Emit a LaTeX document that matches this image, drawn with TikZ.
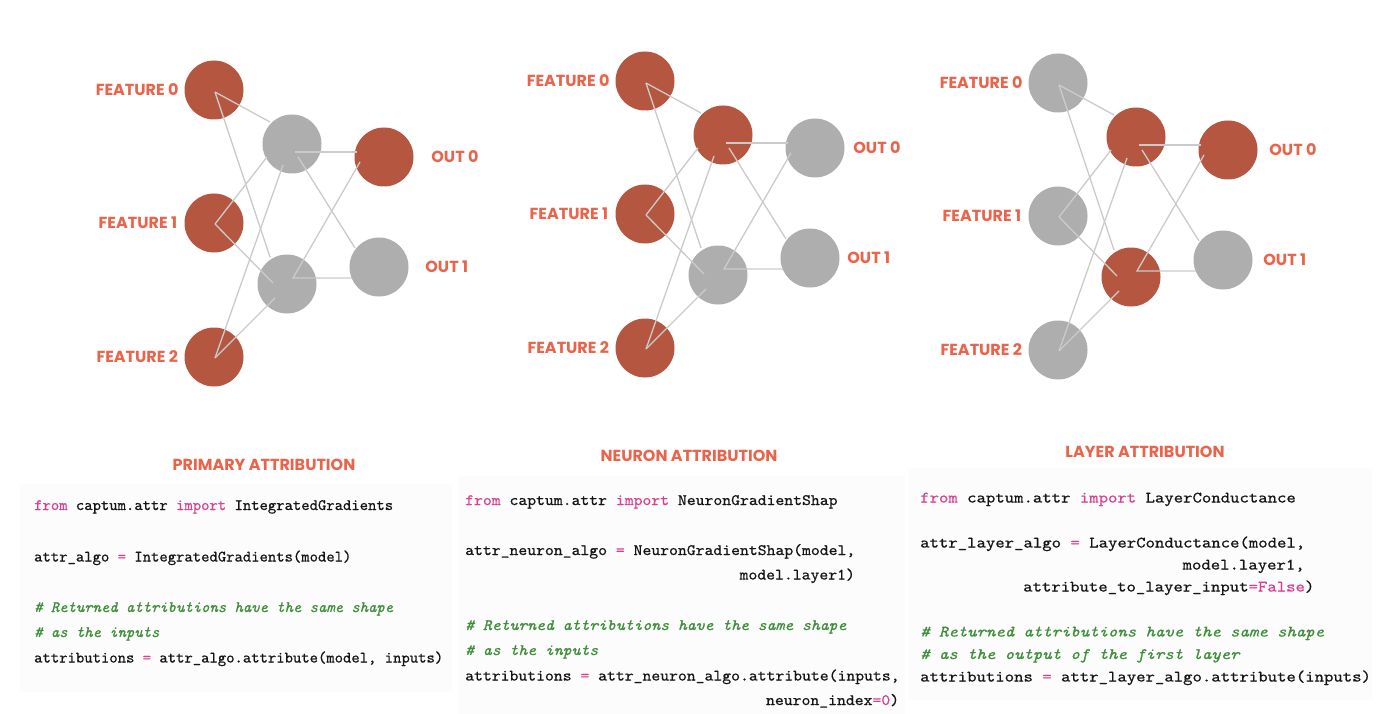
\documentclass[tikz,border=0pt]{standalone}
\usepackage{fontspec}
\usepackage{graphicx}
\usetikzlibrary{calc}
\newfontfamily\lblfont{Poppins}
\setmonofont{lmmono10-regular.otf}[FakeBold=0.6, ItalicFont=lmmono10-italic.otf]
\definecolor{nred}{HTML}{B55740}
\definecolor{ngray}{HTML}{AEAEAE}
\definecolor{egray}{HTML}{CBCBCB}
\definecolor{lblc}{HTML}{EA644B}
\definecolor{kwc}{HTML}{D9408F}
\definecolor{cmc}{HTML}{3E8E3A}
\definecolor{txc}{HTML}{151515}
\definecolor{bgc}{HTML}{FCFCFC}
\newcommand\kw[1]{\textcolor{kwc}{#1}}
\newcommand\cmt[1]{\textcolor{cmc}{\itshape #1}}
\tikzset{
  neuron/.style={circle, minimum size=59pt, inner sep=0pt, draw=none},
  edge/.style={draw=egray, line width=1.3pt},
  lbl/.style={font={\lblfont\bfseries\fontsize{16}{16}\selectfont}, text=lblc, inner sep=0pt},
  ttl/.style={lbl, anchor=center},
  code/.style={font={\ttfamily\fontsize{15.9}{18}\selectfont}, text=txc, inner sep=0pt, anchor=base west},
  codebg/.style={fill=bgc, draw=none}
}
\newcommand\cl[5]{\node[code] (#1) at (#2,#3) {\scalebox{#4}[1]{#5}};}
\newcommand\netpanel[8]{%
  \begin{scope}[shift={(#2,#3)}]
    \node[neuron,fill=#4] (#1F0) at (214,90) {};
    \node[neuron,fill=#4] (#1F1) at (214,223) {};
    \node[neuron,fill=#4] (#1F2) at (214,357) {};
    \node[neuron,fill=#5] (#1H0) at (292,144) {};
    \node[neuron,fill=#6] (#1H1) at (287,284) {};
    \node[neuron,fill=#7] (#1O0) at (384,157) {};
    \node[neuron,fill=ngray] (#1O1) at (379,267) {};
  \end{scope}
  \draw[edge] ($(#1F0.center)+(1,2)$) -- ($(#1H0.center)+(-22,-22)$);
  \draw[edge] ($(#1F0.center)+(1,2)$) -- ($(#1H1.center)+(-17,-27)$);
  \draw[edge] ($(#1F1.center)+(1,1)$) -- ($(#1H0.center)+(-25,13)$);
  \draw[edge] ($(#1F1.center)+(1,1)$) -- ($(#1H1.center)+(-14,-1)$);
  \draw[edge] ($(#1F2.center)+(1,1)$) -- ($(#1H0.center)+(-9,21)$);
  \draw[edge] ($(#1F2.center)+(1,1)$) -- ($(#1H1.center)+(-12,14)$);
  \draw[edge] ($(#1H0.center)+(3,8)$) -- ($(#1O0.center)+(-27,-5)$);
  \draw[edge] ($(#1H0.center)+(6,13)$) -- ($(#1O1.center)+(-24,-19)$);
  \draw[edge] ($(#1O0.center)+(-24,5)$) -- ($(#1H1.center)+(6,-6)$) -- ($(#1O1.center)+(-27,11)$);
  \node[lbl,anchor=east] (#1LF0) at ($(#1F0.west)+(-5.5,0)$) {FEATURE 0};
  \node[lbl,anchor=east] (#1LF1) at ($(#1F1.west)+(-7,0)$) {FEATURE 1};
  \node[lbl,anchor=east] (#1LF2) at ($(#1F2.west)+(-6,0)$) {FEATURE 2};
  \node[lbl,anchor=west] (#1LO0) at ($(#1O0.east)+(#8,0)$) {OUT 0};
  \node[lbl,anchor=west] (#1LO1) at ($(#1O1.east)+(#8-1,0)$) {OUT 1};
}
\begin{document}
\begin{tikzpicture}[x=1pt,y=-1pt]
  \useasboundingbox (0,0) rectangle (1378,714);
  \fill[white] (0,0) rectangle (1378,714);
  % code backgrounds
  \fill[codebg] (20,484) rectangle (452,692);
  \fill[codebg] (458,476) rectangle (905,714);
  \fill[codebg] (908,468) rectangle (1372,700);
  % networks
  \netpanel{a}{0}{0}{nred}{ngray}{ngray}{nred}{17.5}
  \netpanel{b}{431}{-9}{nred}{nred}{ngray}{ngray}{8.5}
  \netpanel{c}{844}{-7}{ngray}{nred}{nred}{nred}{11.5}
  % titles
  \node[ttl] (t1) at (264,465) {PRIMARY ATTRIBUTION};
  \node[ttl] (t2) at (689,456) {NEURON ATTRIBUTION};
  \node[ttl] (t3) at (1145,451.5) {LAYER ATTRIBUTION};
  % panel 1 code
  \cl{p1a}{34}{510}{1}{\kw{from} captum.attr \kw{import} IntegratedGradients}
  \cl{p1b}{34}{561.5}{1}{attr\_algo \kw{=} IntegratedGradients(model)}
  \cl{p1c}{34}{612}{1}{\cmt{\# Returned attributions have the same shape}}
  \cl{p1d}{34}{637}{1}{\cmt{\# as the inputs}}
  \cl{p1e}{34}{662.5}{1}{attributions \kw{=} attr\_algo.attribute(model, inputs)}
  % panel 2 code
  \cl{p2a}{465}{505}{1.062}{\kw{from} captum.attr \kw{import} NeuronGradientShap}
  \cl{p2b}{465}{555}{1.062}{attr\_neuron\_algo \kw{=} NeuronGradientShap(model,}
  \cl{p2c}{739.4}{579.5}{1.062}{model.layer1)}
  \cl{p2d}{465}{630}{1.062}{\cmt{\# Returned attributions have the same shape}}
  \cl{p2e}{465}{655}{1.062}{\cmt{\# as the inputs}}
  \cl{p2f}{465}{680.5}{1.062}{attributions \kw{=} attr\_neuron\_algo.attribute(inputs,}
  \cl{p2g}{765.9}{705}{1.062}{neuron\_index\kw{=0})}
  % panel 3 code
  \cl{p3a}{920}{502.5}{1.125}{\kw{from} captum.attr \kw{import} LayerConductance}
  \cl{p3b}{920}{547.5}{1.125}{attr\_layer\_algo \kw{=} LayerConductance(model,}
  \cl{p3c}{1182.4}{569.5}{1.125}{model.layer1,}
  \cl{p3d}{1023}{591.5}{1.125}{attribute\_to\_layer\_input\kw{=False})}
  \cl{p3e}{920}{636.5}{1.125}{\cmt{\# Returned attributions have the same shape}}
  \cl{p3f}{920}{659}{1.125}{\cmt{\# as the output of the first layer}}
  \cl{p3g}{920}{681.5}{1.125}{attributions \kw{=} attr\_layer\_algo.attribute(inputs)}
\end{tikzpicture}
\end{document}
